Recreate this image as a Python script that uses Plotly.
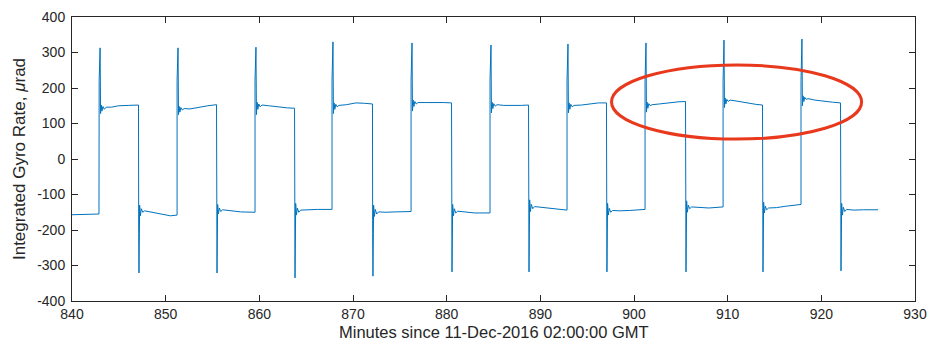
import plotly.graph_objects as go

# Minutes since 11-Dec-2016 02:00:00 GMT
minutes = [
    840.00, 841.00, 842.00, 842.88,
    842.90, 843.00, 843.05, 843.12, 843.20, 843.30, 843.45, 843.65, 844.2, 845.0, 846.0, 847.10,
    847.12, 847.15, 847.22, 847.30, 847.40, 847.55, 847.75, 848.5, 849.5, 850.5, 851.22,
    851.22, 851.32, 851.37, 851.44, 851.52, 851.62, 851.77, 851.97, 852.6, 853.5, 854.5, 855.43,
    855.45, 855.48, 855.55, 855.63, 855.73, 855.88, 856.08, 857.0, 858.0, 859.54,
    859.54, 859.64, 859.69, 859.76, 859.84, 859.94, 860.09, 860.29, 861.0, 862.0, 863.0, 863.76,
    863.78, 863.81, 863.88, 863.96, 864.06, 864.21, 864.41, 865.2, 866.2, 867.76,
    867.76, 867.86, 867.91, 867.98, 868.06, 868.16, 868.31, 868.51, 869.3, 870.3, 871.2, 872.08,
    872.10, 872.13, 872.20, 872.28, 872.38, 872.53, 872.73, 873.5, 874.5, 876.20,
    876.20, 876.30, 876.35, 876.42, 876.50, 876.60, 876.75, 876.95, 877.7, 878.7, 879.7, 880.52,
    880.54, 880.57, 880.64, 880.72, 880.82, 880.97, 881.17, 882.0, 883.0, 884.63,
    884.63, 884.73, 884.78, 884.85, 884.93, 885.03, 885.18, 885.38, 886.1, 887.0, 888.0, 888.74,
    888.76, 888.79, 888.86, 888.94, 889.04, 889.19, 889.39, 890.2, 891.2, 892.85,
    892.85, 892.95, 893.00, 893.07, 893.15, 893.25, 893.40, 893.60, 894.4, 895.3, 896.2, 897.06,
    897.08, 897.11, 897.18, 897.26, 897.36, 897.51, 897.71, 898.5, 899.5, 901.18,
    901.18, 901.28, 901.33, 901.40, 901.48, 901.58, 901.73, 901.93, 902.7, 903.7, 904.7, 905.50,
    905.52, 905.55, 905.62, 905.70, 905.80, 905.95, 906.15, 907.0, 908.0, 909.51,
    909.51, 909.61, 909.66, 909.73, 909.81, 909.91, 910.06, 910.26, 911.0, 912.0, 913.0, 913.72,
    913.74, 913.77, 913.84, 913.92, 914.02, 914.17, 914.37, 915.2, 916.2, 917.83,
    917.83, 917.93, 917.98, 918.05, 918.13, 918.23, 918.38, 918.58, 919.3, 920.3, 921.2, 922.05,
    922.07, 922.10, 922.17, 922.25, 922.35, 922.50, 922.70, 923.5, 924.5, 926.05,
]

# Integrated gyro rate, microradians
gyro_urad = [
    -157, -156, -155, -155,
    222, 313, 128, 152, 135, 148, 140, 146, 146, 150, 151, 152,
    -210, -321, -130, -160, -140, -150, -146, -150, -155, -160, -158,
    222, 313, 125, 148, 132, 145, 138, 142, 141, 146, 150, 153,
    -210, -321, -128, -155, -138, -148, -143, -146, -149, -150,
    222, 315, 125, 160, 140, 155, 147, 152, 150, 146, 144, 143,
    -210, -335, -125, -158, -138, -150, -144, -143, -142, -142,
    222, 330, 128, 158, 140, 154, 147, 151, 153, 158, 157, 155,
    -210, -330, -130, -162, -142, -155, -149, -150, -149, -148,
    222, 327, 135, 166, 148, 162, 155, 159, 159, 160, 159, 158,
    -210, -318, -128, -160, -140, -152, -147, -149, -152, -152,
    222, 321, 130, 160, 142, 156, 149, 153, 151, 150, 151, 152,
    -210, -318, -115, -148, -128, -140, -134, -136, -140, -144,
    222, 324, 130, 158, 140, 154, 147, 151, 152, 156, 158, 158,
    -210, -318, -125, -158, -139, -150, -145, -146, -145, -142,
    222, 327, 132, 160, 143, 156, 150, 153, 155, 159, 161, 162,
    -210, -318, -118, -150, -130, -140, -135, -137, -138, -135,
    222, 335, 145, 172, 155, 168, 162, 166, 163, 158, 154, 152,
    -210, -318, -122, -152, -133, -143, -138, -137, -133, -128,
    222, 338, 150, 178, 162, 174, 168, 170, 166, 162, 160, 158,
    -210, -315, -125, -158, -136, -148, -142, -144, -143, -143,
]

x_ticks = [840, 850, 860, 870, 880, 890, 900, 910, 920, 930]
x_tick_labels = ["840", "850", "860", "870", "880", "890", "900", "910", "920", "930"]
y_ticks = [-400, -300, -200, -100, 0, 100, 200, 300, 400]
y_tick_labels = ["-400", "-300", "-200", "-100", "0", "100", "200", "300", "400"]

x_title = "Minutes since 11-Dec-2016 02:00:00 GMT"
y_title = "Integrated Gyro Rate, <i>μ</i>rad"

# Highlight ellipse extent (data units)
ellipse_x = [897.6, 924.3]
ellipse_y = [56, 265]

AX = "#262626"
FONT = "Liberation Sans, Arial, Helvetica, sans-serif"

fig = go.Figure()
fig.add_trace(go.Scatter(
    x=minutes, y=gyro_urad, mode="lines",
    line=dict(color="#0072BD", width=1),
    showlegend=False, hoverinfo="skip",
))

fig.add_shape(
    type="circle", xref="x", yref="y",
    x0=ellipse_x[0], x1=ellipse_x[1], y0=ellipse_y[0], y1=ellipse_y[1],
    line=dict(color="#E8391D", width=3),
)

axis_common = dict(
    showline=True, linecolor=AX, linewidth=1, mirror="ticks",
    ticks="inside", ticklen=6, tickcolor=AX, tickwidth=1,
    showgrid=False, zeroline=False, automargin=False,
    tickfont=dict(family=FONT, size=14, color=AX),
)

fig.update_layout(
    width=930, height=344,
    margin=dict(l=72, r=15, t=17, b=43),
    paper_bgcolor="white", plot_bgcolor="white",
    font=dict(family=FONT, color=AX),
    xaxis=dict(range=[840, 930], tickvals=x_ticks, ticktext=x_tick_labels,
               **axis_common),
    yaxis=dict(
        range=[-400, 400], tickvals=y_ticks, ticktext=y_tick_labels,
        title=dict(text=y_title, font=dict(family=FONT, size=17, color=AX),
                   standoff=7),
        ticklabelstandoff=3,
        **axis_common,
    ),
)

# x-axis title, placed tight under the tick labels as in the reference
fig.add_annotation(
    text=x_title, xref="paper", yref="paper", x=0.5, y=-0.108,
    xanchor="center", yanchor="middle", showarrow=False,
    font=dict(family=FONT, size=16.5, color=AX),
)

fig.write_html("out.html")
